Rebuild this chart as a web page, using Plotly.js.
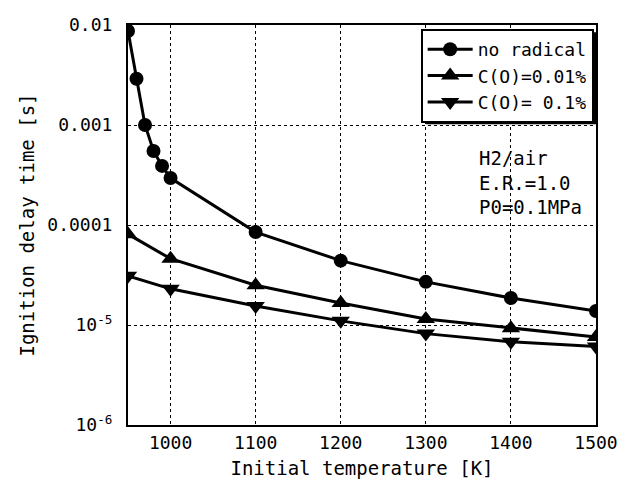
<!DOCTYPE html>
<html>
<head>
<meta charset="utf-8">
<script src="https://cdn.plot.ly/plotly-3.0.1.min.js"></script>
<style>html,body{margin:0;padding:0;background:#fff;}#chart{width:627px;height:493px;}</style>
</head>
<body>
<div id="chart"></div>
<script>
// Data
const tempNoRad = [950, 960, 970, 980, 990, 1000, 1100, 1200, 1300, 1400, 1500];
const delayNoRad = [0.0087, 0.0029, 0.00100, 0.00055, 0.00039, 0.000295, 8.5e-5, 4.4e-5, 2.7e-5, 1.86e-5, 1.38e-5];
const tempRad = [950, 1000, 1100, 1200, 1300, 1400, 1500];
const delayRad001 = [8.1e-5, 4.6e-5, 2.5e-5, 1.66e-5, 1.15e-5, 9.3e-6, 7.6e-6];
const delayRad01 = [3.1e-5, 2.3e-5, 1.55e-5, 1.1e-5, 8.2e-6, 6.8e-6, 6.1e-6];
const seriesNames = ["no radical", "C(O)=0.01%", "C(O)= 0.1%"];
const yTickVals = [1e-6, 1e-5, 1e-4, 1e-3, 1e-2];
const yTickText = ["10<sup>-6</sup>", "10<sup>-5</sup>", "0.0001", "0.001", "0.01"];
const xTickVals = [1000, 1100, 1200, 1300, 1400, 1500];
const noteLines = ["H2/air", "E.R.=1.0", "P0=0.1MPa"];

const FONT = "DejaVu Sans Mono, Liberation Mono, monospace";
const lineStyle = {color: "#000", width: 3};

const traces = [
  {x: tempNoRad, y: delayNoRad, name: seriesNames[0], mode: "lines+markers",
   line: lineStyle, marker: {symbol: "circle", size: 14, color: "#000"}},
  {x: tempRad, y: delayRad001, name: seriesNames[1], mode: "lines+markers",
   line: lineStyle, marker: {symbol: "triangle-up", size: 16, color: "#000"}},
  {x: tempRad, y: delayRad01, name: seriesNames[2], mode: "lines+markers",
   line: lineStyle, marker: {symbol: "triangle-down", size: 16, color: "#000"}}
];

const layout = {
  width: 627, height: 493,
  margin: {l: 128, r: 31, t: 25, b: 68},
  paper_bgcolor: "#fff", plot_bgcolor: "#fff",
  font: {family: FONT, size: 18, color: "#000"},
  showlegend: true,
  legend: {x: 0.995, xanchor: "right", y: 0.99, yanchor: "top",
           bgcolor: "#fff", bordercolor: "#000", borderwidth: 2,
           font: {family: FONT, size: 18, color: "#000"},
           tracegroupgap: 0, itemwidth: 45},
  xaxis: {
    range: [950, 1500], tickvals: xTickVals, ticks: "",
    showgrid: true, gridcolor: "#000", griddash: "dot", gridwidth: 1,
    showline: true, linecolor: "#000", linewidth: 2, mirror: true,
    zeroline: false,
    tickfont: {family: FONT, size: 18, color: "#000"},
    title: {text: "Initial temperature [K]", font: {family: FONT, size: 19, color: "#000"}, standoff: 10}
  },
  yaxis: {
    type: "log", range: [-6, -2], tickvals: yTickVals, ticktext: yTickText, ticks: "",
    showgrid: true, gridcolor: "#000", griddash: "dot", gridwidth: 1,
    showline: true, linecolor: "#000", linewidth: 2, mirror: true,
    zeroline: false, ticklabelstandoff: 10,
    tickfont: {family: FONT, size: 18, color: "#000"},
    title: {text: "Ignition delay time [s]", font: {family: FONT, size: 19, color: "#000"}, standoff: 8}
  },
  shapes: [{
    type: "rect", xref: "paper", yref: "paper", layer: "above",
    x0: 0.637, x1: 1.004, y0: 0.752, y1: 0.982,
    fillcolor: "#000", line: {width: 0}
  }],
  annotations: [{
    xref: "paper", yref: "paper", x: 0.745, y: 0.70, xanchor: "left", yanchor: "top",
    text: noteLines.join("<br>"), showarrow: false, align: "left",
    font: {family: FONT, size: 19, color: "#000"}
  }]
};

Plotly.newPlot("chart", traces, layout, {displayModeBar: false, staticPlot: true});
</script>
</body>
</html>
